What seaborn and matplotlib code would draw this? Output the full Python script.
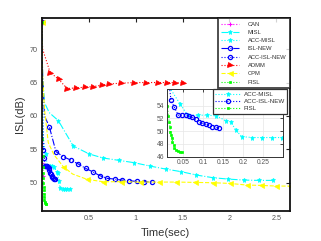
import matplotlib
matplotlib.use("Agg")
import matplotlib.pyplot as plt
import seaborn as sns
import numpy as np

# ---------------- data ----------------
can_t = [0, 0.001, 0.002, 0.004, 0.006, 0.008, 0.010]
can_v = [74, 66, 60, 56, 54, 52.9, 51.0]

misl_t = [0, 0.01, 0.03, 0.08, 0.177, 0.336, 0.507, 0.655, 0.822, 0.985, 1.152,
          1.319, 1.489, 1.649, 1.826, 1.985, 2.152, 2.315, 2.464]
misl_v = [74, 66, 62, 60.5, 59.3, 55.5, 54.3, 53.7, 53.35, 53.0, 52.5,
          52.05, 51.65, 51.15, 50.75, 50.55, 50.4, 50.35, 50.35]

accmisl_t = [0, 0.01, 0.019, 0.042, 0.061, 0.086, 0.111, 0.133, 0.158, 0.169,
             0.182, 0.197, 0.223, 0.248, 0.273, 0.298]
accmisl_v = [74, 62, 56.5, 54.27, 52.5, 52.5, 52.5, 52.4, 51.6, 51.5,
             50.2, 49.15, 49.0, 49.0, 49.0, 49.0]

islnew_t = [0, 0.01, 0.03, 0.081, 0.152, 0.23, 0.308, 0.39, 0.468, 0.542, 0.62,
            0.698, 0.78, 0.851, 0.932, 1.01, 1.088, 1.17]
islnew_v = [74, 66, 60, 58.4, 54.65, 53.9, 53.4, 52.8, 52.15, 51.65, 51.05,
            50.65, 50.55, 50.4, 50.3, 50.2, 50.15, 50.1]

accisl_t = [0, 0.01, 0.019, 0.0275, 0.0375, 0.0467, 0.0567, 0.065, 0.0733, 0.0817,
            0.09, 0.098, 0.107, 0.115, 0.123, 0.132, 0.14]
accisl_v = [74, 60, 54.9, 53.75, 52.5, 52.5, 52.47, 52.36, 52.15, 51.84,
            51.46, 51.25, 51.05, 50.9, 50.7, 50.6, 50.55]

admm_t = [0, 0.01, 0.09, 0.18, 0.27, 0.37, 0.46, 0.55, 0.64, 0.72, 0.85,
          0.98, 1.11, 1.24, 1.33, 1.42, 1.51]
admm_v = [74, 70, 66.5, 65.5, 64.1, 64.2, 64.3, 64.4, 64.6, 64.8, 64.9,
          65.0, 65.0, 65.0, 65.0, 65.0, 64.95]

cpm_t = [0, 0.01, 0.03, 0.07, 0.13, 0.23, 0.33, 0.485, 0.655, 0.85, 1.05,
         1.25, 1.436, 1.63, 1.826, 2.003, 2.187, 2.34, 2.5, 2.64]
cpm_v = [74, 66, 61, 56, 54.2, 52.4, 51.3, 50.5, 50.15, 50.15, 50.1,
         50.1, 50.1, 50.05, 50.0, 49.9, 49.65, 49.6, 49.5, 49.5]

fisl_t = [0, 0.005, 0.0075, 0.01, 0.0125, 0.015, 0.0167, 0.018, 0.02, 0.022, 0.023,
          0.026, 0.028, 0.032, 0.036, 0.042, 0.048]
fisl_v = [74, 60, 56.5, 54.0, 52.3, 51.5, 50.7, 49.9, 49.4, 48.9, 48.35,
          47.8, 47.4, 47.05, 46.9, 46.8, 46.75]

main_xticks = [0.5, 1, 1.5, 2, 2.5]
main_yticks = [50, 55, 60, 65, 70]
inset_xticks = [0.05, 0.1, 0.15, 0.2, 0.25]
inset_yticks = [46, 48, 50, 52, 54]

# ---------------- style ----------------
sns.set_theme(style="white")
plt.rcParams['font.family'] = ['Liberation Sans', 'DejaVu Sans']


def skip(n, drop):
    return [i for i in range(n) if i not in drop]


series = [
    ("CAN", can_t, can_v, dict(color="#ff00ff", ls=":", marker="+", ms=3.5, mew=0.8,
                               markevery=skip(len(can_t), {1, 2}))),
    ("MISL", misl_t, misl_v, dict(color="#00ffff", ls="-.", marker="*", ms=3.6, mew=0.5,
                                  markevery=skip(len(misl_t), {1, 2, 3}))),
    ("ACC-MISL", accmisl_t, accmisl_v, dict(color="#00ffff", ls=":", marker="*", ms=3.6, mew=0.5,
                                            markevery=skip(len(accmisl_t), {1, 2}))),
    ("ISL-NEW", islnew_t, islnew_v, dict(color="#0000ff", ls="-.", marker="o", ms=3.0, mew=0.9, mfc="none",
                                         markevery=skip(len(islnew_t), {1, 2}))),
    ("ACC-ISL-NEW", accisl_t, accisl_v, dict(color="#0000ff", ls=":", marker="o", ms=3.0, mew=0.9, mfc="none",
                                             markevery=skip(len(accisl_t), {1}))),
    ("ADMM", admm_t, admm_v, dict(color="#ff0000", ls=":", marker=">", ms=3.6, mew=0.5,
                                  markevery=skip(len(admm_t), {1}))),
    ("CPM", cpm_t, cpm_v, dict(color="#ffff00", ls="--", marker="<", ms=3.6, mew=0.5,
                               markevery=skip(len(cpm_t), {1, 2, 3, 4, 6}))),
    ("FISL", fisl_t, fisl_v, dict(color="#00ff00", ls=":", marker="s", ms=1.8, mew=0.5,
                                  markevery=skip(len(fisl_t), {1}))),
]


def draw(axis, name, t, v, st):
    st = dict(st)
    c = st.pop("color")
    ls = st.pop("ls")
    sns.lineplot(x=t, y=v, ax=axis, sort=False, estimator=None, label=name,
                 color=c, linestyle=ls, lw=0.8, mec=c, **st)


fig = plt.figure(figsize=(3.21, 2.41), dpi=100)
ax = fig.add_axes([0.1299, 0.1245, 0.7735, 0.8008])

for name, t, v, st in series:
    draw(ax, name, t, v, st)

ax.set_xlim(0, 2.645)
ax.set_ylim(45.77, 74.66)
ax.set_xticks(main_xticks)
ax.set_xticklabels(["0.5", "1", "1.5", "2", "2.5"])
ax.set_yticks(main_yticks)
ax.tick_params(direction="in", length=3, width=0.8, labelsize=5.2, colors="#222222",
               labelcolor="#555555", top=True, right=True, pad=3)
for s in ax.spines.values():
    s.set_color("#111111")
    s.set_linewidth(1.3)
ax.set_xlabel("Time(sec)", fontsize=8, color="#333333", labelpad=4)
ax.set_ylabel("ISL(dB)", fontsize=8, color="#333333", labelpad=3)

leg = ax.legend(loc="upper right", fontsize=4.2, frameon=True, fancybox=False,
                borderaxespad=0.0, handlelength=3.0, handletextpad=1.6,
                labelspacing=0.55, borderpad=0.6)
leg.get_frame().set_edgecolor("#111111")
leg.get_frame().set_linewidth(1.3)
for txt in leg.get_texts():
    txt.set_color("#333333")

# ---------------- inset ----------------
axi = fig.add_axes([0.520, 0.3498, 0.3605, 0.2809])
for name, t, v, st in series:
    if name in ("ACC-MISL", "ACC-ISL-NEW", "FISL"):
        draw(axi, name, t, v, st)
axi.set_xlim(0.009, 0.30)
axi.set_ylim(46, 56.6)
axi.set_xticks(inset_xticks)
axi.set_xticklabels(["0.05", "0.1", "0.15", "0.2", "0.25"])
axi.set_yticks(inset_yticks)
axi.grid(True, color="#e6e6e6", lw=0.5)
axi.tick_params(direction="in", length=2, width=0.6, labelsize=4.8,
                labelcolor="#555555", top=True, right=True, pad=2)
for s in axi.spines.values():
    s.set_color("#333333")
    s.set_linewidth(0.7)
legi = axi.legend(loc="upper right", fontsize=4.5, frameon=True, fancybox=False,
                  bbox_to_anchor=(1.04, 1.0), borderaxespad=0.0, handlelength=4.0,
                  handletextpad=0.5, labelspacing=0.3, borderpad=0.4)
legi.get_frame().set_edgecolor("#333333")
legi.get_frame().set_linewidth(0.9)
legi.get_frame().set_alpha(1)
for txt in legi.get_texts():
    txt.set_color("#333333")

fig.savefig("out.png", dpi=100)
